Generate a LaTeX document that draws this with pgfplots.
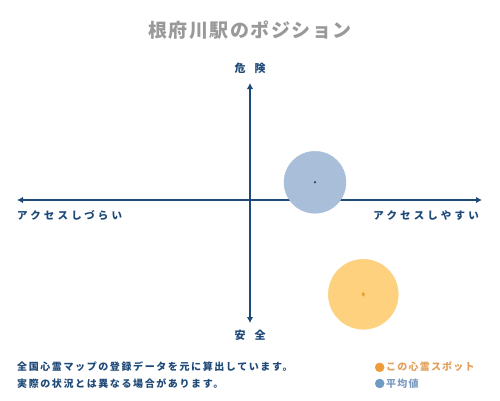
\documentclass[border=0pt]{standalone}
\usepackage{fontspec}
\setmainfont{Noto Sans CJK JP}
\usepackage{pgfplots}
\pgfplotsset{compat=1.18}
\usetikzlibrary{arrows.meta}
\definecolor{navy}{HTML}{1F4A78}
\definecolor{avgfill}{HTML}{A9BED8}
\definecolor{spotfill}{HTML}{FDD17E}
\definecolor{spotdot}{HTML}{F0A030}
\definecolor{legorange}{HTML}{EE9B3A}
\definecolor{legorangetxt}{HTML}{E3A05A}
\definecolor{legblue}{HTML}{6F9AC4}
\definecolor{legbluetxt}{HTML}{7A9ABF}
\definecolor{titlegray}{HTML}{999999}
\newcommand{\ls}[1]{\addfontfeatures{LetterSpace=#1}}

\begin{document}
\begin{tikzpicture}
\begin{axis}[
  scale only axis,
  width=500pt, height=400pt,
  xmin=0, xmax=500, ymin=0, ymax=400,
  hide axis,
  clip=false,
  legend cell align=left,
  legend style={draw=none, fill=none, at={(axis cs:375,40)}, anchor=north west,
    inner sep=0pt, row sep=2pt, font=\fontsize{10}{12}\selectfont\bfseries\ls{12}},
]
\path (axis cs:0,0) rectangle (axis cs:500,400);

% position circles
\addplot[forget plot, only marks, mark=*, mark size=35pt, color=spotfill, mark options={draw=none, fill=spotfill}]
  coordinates {(363.3,105.7)};
\addplot[forget plot, only marks, mark=*, mark size=31pt, color=avgfill, mark options={draw=none, fill=avgfill}]
  coordinates {(315,217.7)};
\addplot[forget plot, only marks, mark=diamond*, mark size=2pt, color=spotdot]
  coordinates {(363.3,105.7)};
\addplot[forget plot, only marks, mark=*, mark size=0.8pt, color=navy!80!black]
  coordinates {(315,217.7)};

% axes
\draw[navy, line width=2pt, {Latex[length=6pt,width=6.5pt]}-{Latex[length=6pt,width=6.5pt]}]
  (axis cs:17,200) -- (axis cs:482,200);
\draw[navy, line width=2pt, {Latex[length=6pt,width=6.5pt]}-{Latex[length=6pt,width=6.5pt]}]
  (axis cs:250,77) -- (axis cs:250,317);

% texts
\node[titlegray, font=\fontsize{19}{22}\selectfont\bfseries\ls{8}] at (axis cs:250,370) {根府川駅のポジション};
\node[navy, font=\fontsize{11}{13}\selectfont\bfseries] at (axis cs:250,332) {危\hspace{9pt}険};
\node[navy, font=\fontsize{11}{13}\selectfont\bfseries] at (axis cs:250,65) {安\hspace{9pt}全};
\node[navy, anchor=west, inner sep=0pt, font=\fontsize{10.5}{13}\selectfont\bfseries\ls{30}] at (axis cs:17,185) {アクセスしづらい};
\node[navy, anchor=east, inner sep=0pt, font=\fontsize{10.5}{13}\selectfont\bfseries\ls{30}] at (axis cs:479,185) {アクセスしやすい};
\node[navy, anchor=west, inner sep=0pt, align=left, font=\fontsize{10}{16.5}\selectfont\bfseries\ls{16}] at (axis cs:17,25)
  {全国心霊マップの登録データを元に算出しています。\\実際の状況とは異なる場合があります。};

% legend
\addlegendimage{only marks, mark=*, mark size=4.5pt, color=legorange}
\addlegendentry{\textcolor{legorangetxt}{この心霊スポット}}
\addlegendimage{only marks, mark=*, mark size=4.5pt, color=legblue}
\addlegendentry{\textcolor{legbluetxt}{平均値}}
\end{axis}
\end{tikzpicture}
\end{document}
